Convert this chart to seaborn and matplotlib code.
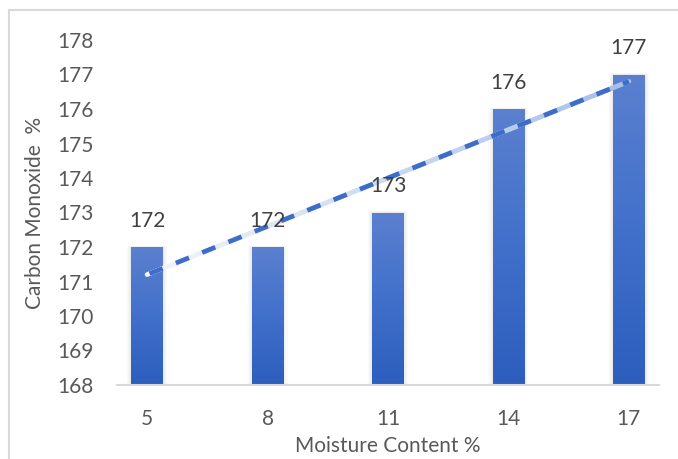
import numpy as np
import pandas as pd
import matplotlib
matplotlib.use("Agg")
import matplotlib.pyplot as plt
import seaborn as sns
from matplotlib.collections import LineCollection
from matplotlib.colors import LinearSegmentedColormap
from matplotlib.patches import Rectangle

# ---- data ----
moisture = ["5", "8", "11", "14", "17"]
carbon_monoxide = [172, 172, 173, 176, 177]
y_ticks = [168, 169, 170, 171, 172, 173, 174, 175, 176, 177, 178]
x_title = "Moisture Content %"
y_title = "Carbon Monoxide  %"

df = pd.DataFrame({"moisture": moisture, "co": carbon_monoxide})

sns.set_theme(style="white")
plt.rcParams["font.family"] = ["Lato", "DejaVu Sans"]
FS = 15

fig = plt.figure(figsize=(6.78, 4.59), dpi=100)
ax = fig.add_axes([117 / 678, 1 - 385 / 459, 542 / 678, 345 / 459])

base = y_ticks[0]
sns.barplot(data=df, x="moisture", y="co", ax=ax, width=0.26,
            color="#4472c4", saturation=1, bottom=0)

ax.set_xlim(-0.25, len(moisture) - 0.75)
ax.set_ylim(y_ticks[0], y_ticks[-1])

# gradient fill + soft shadow for each bar
grad_cmap = LinearSegmentedColormap.from_list("g", ["#2d5ebd", "#4170cb", "#5b80cf"])
grad = np.linspace(0, 1, 256).reshape(-1, 1)
for p in list(ax.patches):
    x0, w = p.get_x(), p.get_width()
    y1 = p.get_y() + p.get_height()
    for k in range(1, 5):
        sh = Rectangle((x0 - 0.009 * k, base), w + 0.018 * k, y1 - base + 0.01 * k,
                       facecolor="#000000", alpha=0.018, edgecolor="none", zorder=1)
        ax.add_patch(sh)
    p.set_facecolor("none")
    p.set_edgecolor("none")
    im = ax.imshow(grad, cmap=grad_cmap, aspect="auto", origin="lower",
                   extent=[x0, x0 + w, base, y1], zorder=2)
    im.set_clip_path(p)
    p.set_zorder(2)

ax.set_xlim(-0.25, len(moisture) - 0.75)
ax.set_ylim(y_ticks[0], y_ticks[-1])

# data labels
for i, v in enumerate(carbon_monoxide):
    ax.annotate(str(v), (i, v), xytext=(0, 19), textcoords="offset points",
                ha="center", va="center", fontsize=FS, color="#404040", zorder=5)

# linear trendline
xi = np.arange(len(carbon_monoxide))
slope, intercept = np.polyfit(xi, carbon_monoxide, 1)
xs = np.linspace(xi[0], xi[-1], 200)
ys = slope * xs + intercept
pts = np.column_stack([xs, ys]).reshape(-1, 1, 2)
segs = np.concatenate([pts[:-1], pts[1:]], axis=1)
light_cmap = LinearSegmentedColormap.from_list("l", ["#f2f5fb", "#a6bfe8"])
lc = LineCollection(segs, cmap=light_cmap, linewidth=3.4, capstyle="round", zorder=3)
lc.set_array(np.linspace(0, 1, len(segs)))
ax.add_collection(lc)
ax.plot(xs[1:], ys[1:], color="#3d6dc8", lw=3.4, dashes=(3.0, 3.0), dash_capstyle="butt",
        zorder=4)

# axes styling
ax.set_yticks(y_ticks)
for s in ["top", "right", "left"]:
    ax.spines[s].set_visible(False)
ax.spines["bottom"].set_color("#d9d9d9")
ax.spines["bottom"].set_linewidth(1.5)
ax.spines["bottom"].set_zorder(6)
ax.tick_params(axis="both", length=0, labelsize=FS, labelcolor="#595959")
ax.tick_params(axis="y", pad=17)
ax.tick_params(axis="x", pad=17)
ax.grid(False)

ax.set_xlabel(x_title, fontsize=FS, color="#595959")
ax.set_ylabel(y_title, fontsize=FS, color="#595959")
ax.xaxis.set_label_coords(0.5, (385 - 446) / 345)
ax.xaxis.label.set_va("center")
ax.yaxis.set_label_coords((35 - 117) / 542, 0.5)
ax.yaxis.label.set_va("center")

# chart-area border
border = Rectangle((9 / 678, -0.2), 1.2, 1 - 10 / 459 + 0.2, transform=fig.transFigure,
                   facecolor="none", edgecolor="#d9d9d9", linewidth=1.5)
fig.patches.append(border)

fig.savefig("out.png", dpi=100)
